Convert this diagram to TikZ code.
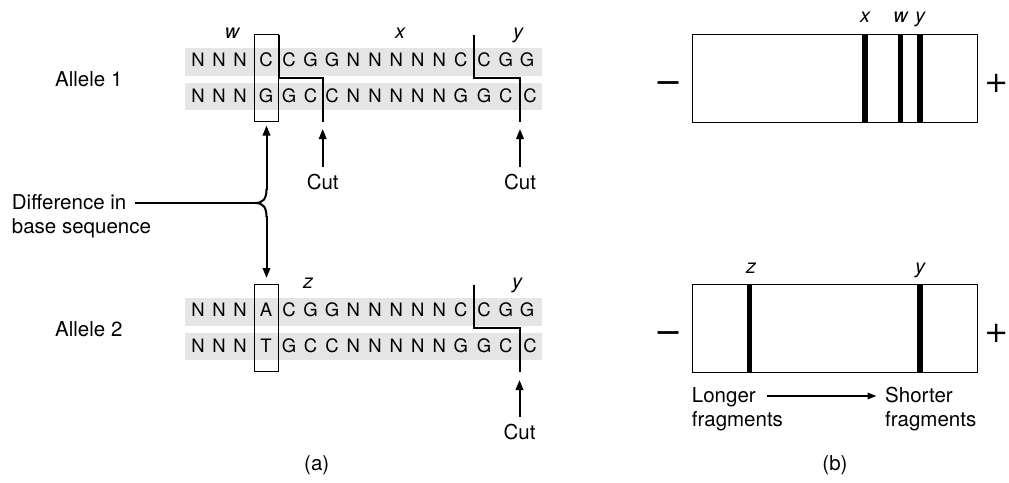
\documentclass[tikz,border=0pt]{standalone}
\usepackage{fontspec}
\setmainfont{TeX Gyre Heros}
\newfontfamily\signfont{DejaVu Sans}
\usetikzlibrary{arrows.meta}
\tikzset{
  lbl/.style={font=\fontsize{20.5}{24}\selectfont, inner sep=0pt, anchor=base west},
  captext/.style={font=\fontsize{20.5}{24}\selectfont, inner sep=0pt, anchor=base},
  tag/.style={font=\fontsize{20}{24}\selectfont\itshape, inner sep=0pt, anchor=base},
  nt/.style={font=\fontsize{18.5}{22}\selectfont, inner sep=0pt, anchor=base},
  minussign/.style={inner sep=0pt, anchor=base, font=\signfont\fontsize{33.5}{34}\selectfont},
  plussign/.style={inner sep=0pt, anchor=base east, font=\signfont\fontsize{29}{30}\selectfont},
  band/.style={fill=black!10, draw=none},
  boxline/.style={draw=black, line width=1pt},
  cutline/.style={line width=2pt},
  brace/.style={line width=2pt},
  pointer/.style={line width=2pt, -{Triangle[length=10pt,width=7.5pt]}},
  thinarrow/.style={line width=1.6pt, -{Triangle[length=9pt,width=6.5pt]}},
  gel/.style={draw=black, line width=1pt},
  stripe/.style={line width=5.5pt},
}
\begin{document}
\begin{tikzpicture}[x=1pt,y=-1pt]
\useasboundingbox (0,0) rectangle (1009,482);

% grey backgrounds of the two strands of each allele
\foreach \dy in {0,250} {
  \fill[band] (185,{48+\dy}) rectangle (542,{75.5+\dy});
  \fill[band] (185,{83+\dy}) rectangle (542,{110+\dy});
}

% base sequences: x / allele 1 top / allele 1 bottom / allele 2 top / allele 2 bottom
\foreach \x/\a/\b/\c/\d [count=\i] in {
  198/N/N/N/N, 219/N/N/N/N, 240/N/N/N/N, 266/C/G/A/T,
  289/C/G/C/G, 310.5/G/C/G/C, 332/G/C/G/C, 353.4/N/N/N/N,
  375/N/N/N/N, 396.3/N/N/N/N, 417.8/N/N/N/N, 439.2/N/N/N/N,
  460.7/C/G/C/G, 484/C/G/C/G, 505.7/G/C/G/C} {
  \node[nt] (s1t\i) at (\x,66.7) {\a};
  \node[nt] (s1b\i) at (\x,102.3) {\b};
  \node[nt] (s2t\i) at (\x,316.7) {\c};
  \node[nt] (s2b\i) at (\x,352.3) {\d};
}
\node[nt] (s1t16) at (527,66.7) {G};
\node[nt] (s1b16) at (530,102.3) {C};
\node[nt] (s2t16) at (527,316.7) {G};
\node[nt] (s2b16) at (530,352.3) {C};

% frames around the differing base pair
\draw[boxline] (254,34.7) rectangle (278.7,121.7);
\draw[boxline] (254,284.5) rectangle (278.7,371.7);

% restriction cut sites
\draw[cutline] (278.7,34.7) -- (278.7,78) -- (322.7,78) -- (322.7,122);
\draw[cutline] (474,34.7) -- (474,78) -- (520,78) -- (520,122);
\draw[cutline] (474,284.7) -- (474,328) -- (519.5,328) -- (519.5,372);

% fragment labels above the sequences
\node[tag] (w1) at (232,38.3) {w};
\node[tag] (x1) at (400,38.3) {x};
\node[tag] (y1) at (518,38.3) {y};
\node[tag] (z2) at (308,288.3) {z};
\node[tag] (y2) at (517,288.3) {y};

% allele names
\node[lbl] (al1) at (55,86.3) {Allele 1};
\node[lbl] (al2) at (55,336.3) {Allele 2};

% cut markers
\node[captext] (cut1) at (322.7,189.5) {Cut};
\node[captext] (cut2) at (520,189.5) {Cut};
\node[captext] (cut3) at (519.5,439.5) {Cut};
\coordinate (c1) at (322.7,129);
\coordinate (c2) at (520,129);
\coordinate (c3) at (519.5,380);
\draw[pointer] ([yshift=7pt]cut1.north) -- (c1);
\draw[pointer] ([yshift=7pt]cut2.north) -- (c2);
\draw[pointer] ([yshift=7pt]cut3.north) -- (c3);

% difference in base sequence, pointing to both alleles
\node[lbl] (diffa) at (11.7,209.3) {Difference in};
\node[lbl] (diffb) at (11.7,233.3) {base sequence};
\coordinate (cusp) at (255,203);
\coordinate (up) at (266.5,125.5);
\coordinate (down) at (266.5,278);
\draw[brace] (266.5,189) .. controls (266.5,199) and (263,203) .. (cusp)
             .. controls (263,203) and (266.5,207) .. (266.5,217);
\draw[pointer] (266.5,190) -- (up);
\draw[pointer] (266.5,216) -- (down);
\draw[brace] ([xshift=8pt]diffa.east |- cusp) -- (cusp);

% gel for allele 1
\draw[gel] (692.3,34.3) rectangle (977.5,122.3);
\foreach \x in {865,900.7,920}
  \draw[stripe] (\x,34.3) -- (\x,122.3);
\node[tag] (gx) at (865,22.7) {x};
\node[tag] (gw) at (900.7,22.7) {w};
\node[tag] (gy) at (920,22.7) {y};
\node[minussign] (m1) at (668.5,93) {−};
\node[plussign] (p1) at (1008.5,92) {+};

% gel for allele 2
\draw[gel] (692.3,284.3) rectangle (977.5,372.3);
\foreach \x in {749.3,920}
  \draw[stripe] (\x,284.3) -- (\x,372.3);
\node[tag] (gz) at (751,273.3) {z};
\node[tag] (gy2) at (920,273.3) {y};
\node[minussign] (m2) at (668.5,343) {−};
\node[plussign] (p2) at (1008.5,342) {+};

% migration direction
\node[lbl] (longa) at (691.7,402.5) {Longer};
\node[lbl] (longb) at (691.7,426.5) {fragments};
\node[lbl] (shorta) at (885,402.5) {Shorter};
\node[lbl] (shortb) at (885,426.5) {fragments};
\draw[thinarrow] ([xshift=11.5pt]longa.east |- 0,396) -- ([xshift=-8.5pt]shorta.west |- 0,396);

% panel captions
\node[captext] (pa) at (316.7,470.5) {(a)};
\node[captext] (pb) at (835,470.5) {(b)};
\end{tikzpicture}
\end{document}
